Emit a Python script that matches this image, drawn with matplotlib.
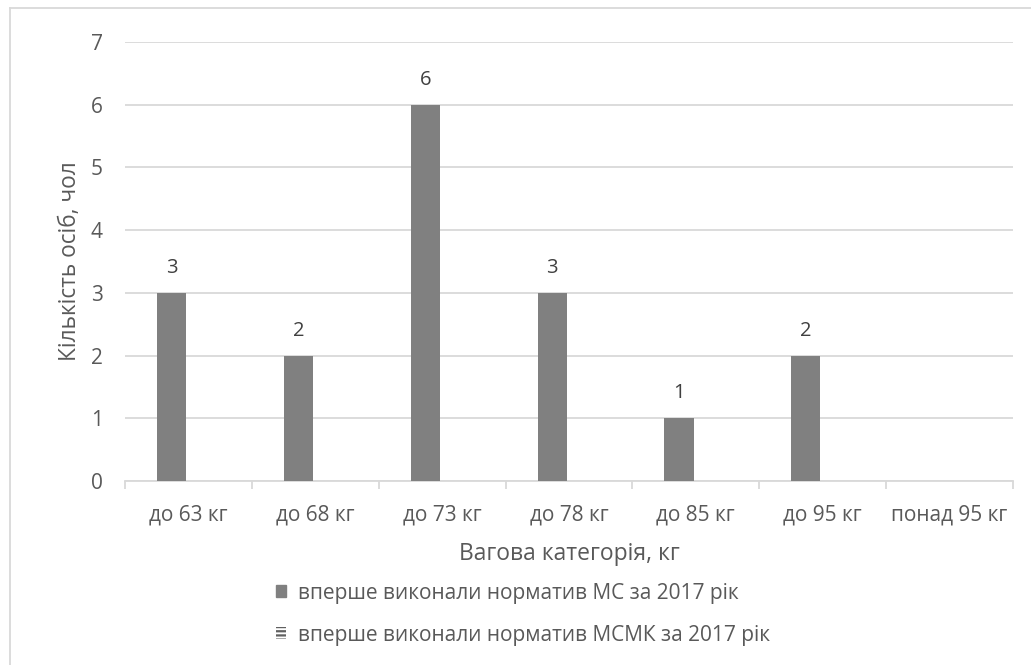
import matplotlib
matplotlib.use("Agg")
import matplotlib.pyplot as plt
import numpy as np
from matplotlib.patches import Patch

plt.rcParams['font.family'] = ['Open Sans', 'DejaVu Sans']
plt.rcParams['hatch.linewidth'] = 1.6

categories = ["до 63 кг", "до 68 кг", "до 73 кг", "до 78 кг", "до 85 кг", "до 95 кг", "понад 95 кг"]
ms_values = [3, 2, 6, 3, 1, 2, 0]
msmk_values = [0, 0, 0, 0, 0, 0, 0]
series_names = ["вперше виконали норматив МС за 2017 рік",
                "вперше виконали норматив МСМК за 2017 рік"]
y_ticks = [0, 1, 2, 3, 4, 5, 6, 7]

W, H = 1031, 665
fig = plt.figure(figsize=(W / 100, H / 100), dpi=100)
ax = fig.add_axes([125 / W, 1 - 481 / H, (1013 - 125) / W, (481 - 42) / H])

txt = '#595959'
grid = '#d9d9d9'
bar_c = '#808080'

x = np.arange(len(categories))
w = 0.229
b1 = ax.bar(x - 0.133, ms_values, w, color=bar_c, zorder=3)
b2 = ax.bar(x - 0.133 + w, msmk_values, w, facecolor='white', edgecolor='#606060',
            hatch='----', linewidth=0, zorder=3)

for xi, v in zip(x - 0.133, ms_values):
    if v > 0:
        ax.annotate(str(v), (xi, v), xytext=(0, 18), textcoords='offset points',
                    ha='center', va='center', fontsize=14.5, color='#404040')

ax.set_xlim(-0.5, len(categories) - 0.5)
ax.set_ylim(0, 7)
ax.set_yticks(y_ticks)
ax.yaxis.grid(True, color=grid, linewidth=1.3, zorder=0)
ax.set_axisbelow(True)
for s in ['top', 'right', 'left']:
    ax.spines[s].set_visible(False)
ax.spines['bottom'].set_color(grid)
ax.spines['bottom'].set_linewidth(1.3)

ax.set_xticks(x)
ax.set_xticklabels(categories)
ax.set_xticks(np.arange(len(categories) + 1) - 0.5, minor=True)
ax.tick_params(axis='x', which='major', length=0, pad=17, labelsize=15, labelcolor=txt)
ax.tick_params(axis='x', which='minor', length=6, width=1.3, color=grid)
ax.tick_params(axis='y', length=0, pad=16, labelsize=15, labelcolor=txt)

ax.set_xlabel("Вагова категорія, кг", fontsize=16.5, color=txt, labelpad=12)
ax.set_ylabel("Кількість осіб, чол", fontsize=16.3, color=txt, labelpad=6)

handles = [Patch(facecolor=bar_c, edgecolor=bar_c),
           Patch(facecolor='white', edgecolor='#606060', hatch='----', linewidth=0)]
leg = fig.legend(handles, series_names, loc='upper left', bbox_to_anchor=(257 / W, 1 - 564 / H),
                 frameon=False, fontsize=15, labelcolor=txt, handlelength=0.5,
                 handleheight=0.5, handletextpad=0.55, labelspacing=1.0)

# figure border (left and top visible)
fig.add_artist(plt.Line2D([10 / W, 10 / W], [0, 1 - 8 / H], transform=fig.transFigure, color=grid, lw=1.3))
fig.add_artist(plt.Line2D([10 / W, 1], [1 - 8 / H, 1 - 8 / H], transform=fig.transFigure, color=grid, lw=1.3))

fig.savefig("out.png", dpi=100)
